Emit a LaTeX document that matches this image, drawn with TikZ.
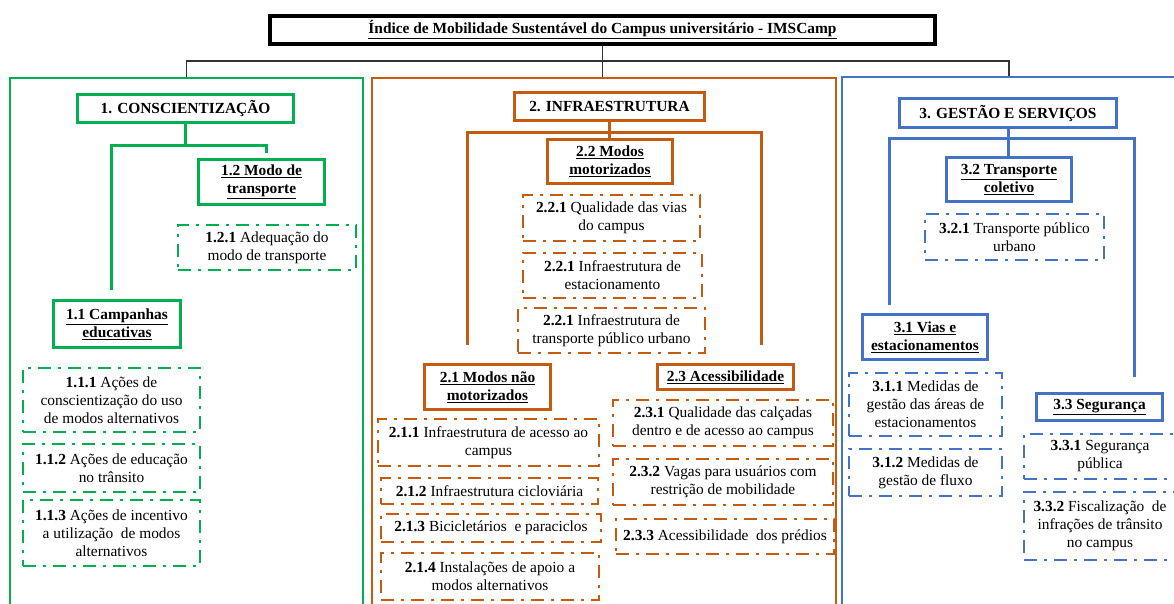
\documentclass[tikz,border=0pt]{standalone}
\usepackage{fontspec}
\setmainfont{Liberation Serif}
\usetikzlibrary{calc}
\definecolor{cgreen}{RGB}{0,176,80}
\definecolor{corange}{RGB}{197,90,17}
\definecolor{cblue}{RGB}{68,114,196}
\definecolor{dark-gray}{gray}{0.2}
\newcommand{\boxfont}{\fontsize{15.4pt}{18pt}\selectfont}
\tikzstyle{titlebox}=[draw=black,line width=3.5pt,font=\boxfont\bfseries]
\tikzstyle{toplink}=[draw=dark-gray,line width=1.2pt]
\tikzset{
  groupbox/.style={draw=#1,line width=1.5pt},
  headbox/.style={draw=#1,line width=3pt,font=\boxfont\bfseries},
  itembox/.style={draw=#1,line width=2.8pt,dash pattern=on 13pt off 7pt on 3pt off 7pt},
  link/.style={draw=#1,line width=3pt}
}
% box between two corners (x1,y1) and (x2,y2), in pixels of the original
\newcommand{\boxnode}[7]{
  \pgfmathsetmacro{\boxw}{#5-#3}
  \pgfmathsetmacro{\boxh}{#6-#4}
  \node[#1,minimum width=\boxw pt,minimum height=\boxh pt] (#2) at ({(#3+#5)/2},{(#4+#6)/2}) {#7};
}

\begin{document}
\begin{tikzpicture}[x=1pt,y=-1pt,every node/.style={font=\boxfont,align=center,inner sep=0pt}]
  \useasboundingbox (0,0) rectangle (1174,603);
  \clip (0,0) rectangle (1174,603);

  \boxnode{titlebox}{title}{270}{16}{935}{44}{\underline{Índice de Mobilidade Sustentável do Campus universitário - IMSCamp}}
  \boxnode{groupbox=cgreen}{grp1}{10}{78}{363}{640}{}
  \boxnode{groupbox=corange}{grp2}{372}{78}{836}{640}{}
  \boxnode{groupbox=cblue}{grp3}{842}{77}{1176}{640}{}
  \coordinate (tj) at (602.5,61);
  \draw[toplink] (title.south) -- (title.south |- grp2.north);
  \draw[toplink] (grp1.north) |- (tj) -| (grp3.north);

  % 1. Conscientizacao
  \boxnode{headbox=cgreen}{c1}{77.5}{94.5}{293.5}{122.5}{1. CONSCIENTIZAÇÃO}
  \boxnode{headbox=cgreen}{c12}{198.5}{159.5}{324.5}{204.5}{\underline{1.2 Modo de}\\\underline{transporte}}
  \boxnode{itembox=cgreen}{c121}{178}{225}{356}{270}{\textbf{1.2.1} Adequação do\\modo de transporte}
  \boxnode{headbox=cgreen}{c11}{53.5}{300.5}{180.5}{347.5}{\underline{1.1 Campanhas}\\\underline{educativas}}
  \boxnode{itembox=cgreen}{c111}{23}{368}{200}{432}{\textbf{1.1.1} Ações de\\conscientização do uso\\de modos alternativos}
  \boxnode{itembox=cgreen}{c112}{23}{444}{200}{492}{\textbf{1.1.2} Ações de educação\\no trânsito}
  \boxnode{itembox=cgreen}{c113}{23}{500}{200}{566}{\textbf{1.1.3} Ações de incentivo\\a utilização\ \ de modos\\alternativos}
  \coordinate (c1j) at (185.5,145);
  \coordinate (c11in) at (111,290);
  \coordinate (c12in) at (266,153);
  \draw[link=cgreen] (c1.south) -- (c1j);
  \draw[link=cgreen] (c11in) |- (c12in |- c1j) -- (c12in);

  % 2. Infraestrutura
  \boxnode{headbox=corange}{i2}{514.5}{92.5}{704.5}{120.5}{2. INFRAESTRUTURA}
  \boxnode{headbox=corange}{i22}{547.5}{139.5}{672.5}{183.5}{\underline{2.2 Modos}\\\underline{motorizados}}
  \boxnode{itembox=corange}{i221}{523}{195}{700}{241}{\textbf{2.2.1} Qualidade das vias\\do campus}
  \boxnode{itembox=corange}{i222}{523}{253}{702}{298}{\textbf{2.2.1} Infraestrutura de\\estacionamento}
  \boxnode{itembox=corange}{i223}{518}{308}{705}{353}{\textbf{2.2.1} Infraestrutura de\\transporte público urbano}
  \boxnode{headbox=corange}{i21}{424.5}{364.5}{550.5}{409.5}{\underline{2.1 Modos não}\\\underline{motorizados}}
  \boxnode{itembox=corange}{i211}{378}{419}{599}{466}{\textbf{2.1.1} Infraestrutura de acesso ao\\campus}
  \boxnode{itembox=corange}{i212}{381}{478}{598}{504}{\textbf{2.1.2} Infraestrutura cicloviária}
  \boxnode{itembox=corange}{i213}{381}{514}{601}{542}{\textbf{2.1.3} Bicicletários\ \ e paraciclos}
  \boxnode{itembox=corange}{i214}{381}{553}{599}{600}{\textbf{2.1.4} Instalações de apoio a\\modos alternativos}
  \boxnode{headbox=corange}{i23}{657.5}{364.5}{793.5}{389.5}{\underline{2.3 Acessibilidade}}
  \boxnode{itembox=corange}{i231}{613}{400}{833}{446}{\textbf{2.3.1} Qualidade das calçadas\\dentro e de acesso ao campus}
  \boxnode{itembox=corange}{i232}{613}{459}{833}{505}{\textbf{2.3.2} Vagas para usuários com\\restrição de mobilidade}
  \boxnode{itembox=corange}{i233}{616}{519}{834}{554}{\textbf{2.3.3} Acessibilidade\ \ dos prédios}
  \coordinate (i2j) at (609.5,132);
  \coordinate (i21in) at (467,345);
  \coordinate (i23in) at (761,345);
  \draw[link=corange] (i2.south) -- (i2.south |- i22.north);
  \draw[link=corange] (i21in) |- (i2j) -| (i23in);

  % 3. Gestao e servicos
  \boxnode{headbox=cblue}{g3}{899.5}{98.5}{1116.5}{127.5}{3. GESTÃO E SERVIÇOS}
  \boxnode{headbox=cblue}{g32}{946.5}{157.5}{1071.5}{201.5}{\underline{3.2 Transporte}\\\underline{coletivo}}
  \boxnode{itembox=cblue}{g321}{925}{214}{1104}{260}{\textbf{3.2.1} Transporte público\\urbano}
  \boxnode{headbox=cblue}{g31}{862.5}{314.5}{987.5}{359.5}{\underline{3.1 Vias e}\\\underline{estacionamentos}}
  \boxnode{itembox=cblue}{g311}{849}{373}{1002}{436}{\textbf{3.1.1} Medidas de\\gestão das áreas de\\estacionamentos}
  \boxnode{itembox=cblue}{g312}{849}{449}{1002}{496}{\textbf{3.1.2} Medidas de\\gestão de fluxo}
  \boxnode{headbox=cblue}{g33}{1036.5}{393.5}{1162.5}{420.5}{\underline{3.3 Segurança}}
  \boxnode{itembox=cblue}{g331}{1024}{434}{1176}{479}{\textbf{3.3.1} Segurança\\pública}
  \boxnode{itembox=cblue}{g332}{1024}{492}{1176}{560}{\textbf{3.3.2} Fiscalização\ \ de\\infrações de trânsito\\no campus}
  \coordinate (g3j) at (1008,138);
  \coordinate (g31in) at (889,305);
  \coordinate (g33in) at (1134,377);
  \draw[link=cblue] (g3.south) -- (g3.south |- g32.north);
  \draw[link=cblue] (g31in) |- (g3j) -| (g33in);
\end{tikzpicture}
\end{document}
